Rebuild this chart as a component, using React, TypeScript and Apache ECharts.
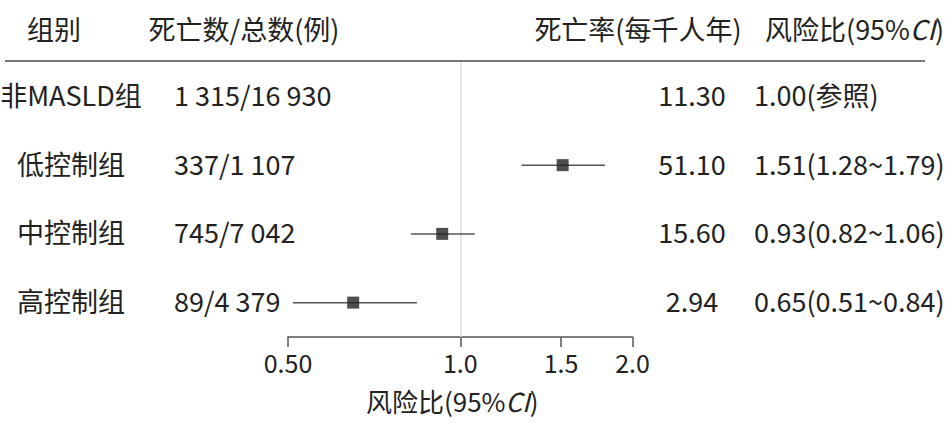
import React, { useEffect, useRef } from "react";
import * as echarts from "echarts";

const groups = ["非MASLD组", "低控制组", "中控制组", "高控制组"];
const deaths = ["1 315/16 930", "337/1 107", "745/7 042", "89/4 379"];
const rates = ["11.30", "51.10", "15.60", "2.94"];
const hrLabels = ["1.00(参照)", "1.51(1.28~1.79)", "0.93(0.82~1.06)", "0.65(0.51~0.84)"];
const hr: (number | null)[] = [null, 1.51, 0.93, 0.65];
const ciLow: (number | null)[] = [null, 1.28, 0.82, 0.51];
const ciHigh: (number | null)[] = [null, 1.79, 1.06, 0.84];
const tickValues = [0.5, 1, 1.5, 2];
const tickLabels = ["0.50", "1.0", "1.5", "2.0"];
const headers = ["组别", "死亡数/总数(例)", "死亡率(每千人年)", "风险比(95%{i|CI})"];

const FONT = '"Noto Sans CJK SC", "Noto Sans", sans-serif';
const FS = 27;
const TXT = "#222";

export default function App() {
  const ref = useRef<HTMLDivElement>(null);
  useEffect(() => {
    document.body.style.margin = "0";
    const chart = echarts.init(ref.current!, null, { renderer: "svg" });

    const pointData = hr
      .map((v, i) => (v == null ? null : [v, i]))
      .filter((d) => d != null);
    const ciData = ciLow
      .map((v, i) => (v == null ? null : [v, ciHigh[i], i]))
      .filter((d) => d != null);
    const rowData = groups.map((_, i) => [1, i]);

    const colX = [71, 174, 692, 754];
    const colAlign = ["center", "left", "center", "left"];
    const headerX = [54, 244, 638, 765];
    const headerAlign = ["center", "center", "center", "left"];

    const textStyle = (text: string, align: string) => ({
      text,
      fontSize: FS,
      fontFamily: FONT,
      fill: TXT,
      align,
      verticalAlign: "middle",
      rich: { i: { fontStyle: "italic", fontSize: FS, fontFamily: FONT, fill: TXT } },
    });

    chart.setOption({
      animation: false,
      grid: { left: 288, right: 312.5, top: 62, bottom: 86, containLabel: false },
      xAxis: {
        type: "log",
        logBase: 2,
        min: 0.5,
        max: 2,
        axisLine: { show: true, lineStyle: { color: "#555", width: 1.5 } },
        axisTick: {
          show: true,
          length: 10,
          lineStyle: { color: "#555", width: 1.5 },
          customValues: tickValues,
        },
        axisLabel: {
          customValues: tickValues,
          fontSize: 25,
          fontFamily: FONT,
          color: TXT,
          margin: 12,
          formatter: (v: number) => {
            const idx = tickValues.findIndex((t) => Math.abs(t - v) < 1e-6);
            return idx >= 0 ? tickLabels[idx] : "";
          },
        },
        splitLine: { show: false },
        name: "风险比(95%{i|CI})",
        nameLocation: "middle",
        nameGap: 50,
        nameTextStyle: {
          fontSize: 26,
          fontFamily: FONT,
          color: TXT,
          padding: [0, 16, 0, 0],
          rich: { i: { fontStyle: "italic", fontSize: 26, fontFamily: FONT, color: TXT } },
        },
      },
      yAxis: {
        type: "category",
        data: groups,
        inverse: true,
        show: false,
      },
      graphic: [
        {
          type: "line",
          shape: { x1: 5, y1: 61, x2: 925, y2: 61 },
          style: { stroke: "#777", lineWidth: 2 },
          z: 10,
        },
        ...headers.map((h, i) => ({
          type: "text",
          x: headerX[i],
          y: 28,
          style: textStyle(h, headerAlign[i]),
        })),
      ],
      series: [
        {
          type: "custom",
          clip: false,
          silent: true,
          data: rowData,
          encode: { x: 0, y: 1 },
          renderItem: (params: any, api: any) => {
            const i = params.dataIndex;
            const y = api.coord([1, i])[1] - 2;
            const texts = [groups[i], deaths[i], rates[i], hrLabels[i]];
            return {
              type: "group",
              children: texts.map((t, c) => ({
                type: "text",
                x: colX[c],
                y,
                style: textStyle(t, colAlign[c]),
              })),
            };
          },
        },
        {
          type: "custom",
          clip: false,
          silent: true,
          data: ciData,
          encode: { x: [0, 1], y: 2 },
          renderItem: (params: any, api: any) => {
            const p1 = api.coord([api.value(0), api.value(2)]);
            const p2 = api.coord([api.value(1), api.value(2)]);
            return {
              type: "line",
              shape: { x1: p1[0], y1: p1[1], x2: p2[0], y2: p2[1] },
              style: { stroke: "#555", lineWidth: 1.5 },
            };
          },
          z: 3,
        },
        {
          type: "scatter",
          data: pointData,
          symbol: "rect",
          symbolSize: 12,
          itemStyle: { color: "#222" },
          silent: true,
          z: 5,
          markLine: {
            silent: true,
            symbol: ["none", "none"],
            label: { show: false },
            lineStyle: { color: "#ddd", width: 1.5, type: "solid" },
            data: [{ xAxis: 1 }],
            z: 1,
          },
        },
      ],
    });
    return () => chart.dispose();
  }, []);
  return <div ref={ref} style={{ width: 945, height: 423 }} />;
}
